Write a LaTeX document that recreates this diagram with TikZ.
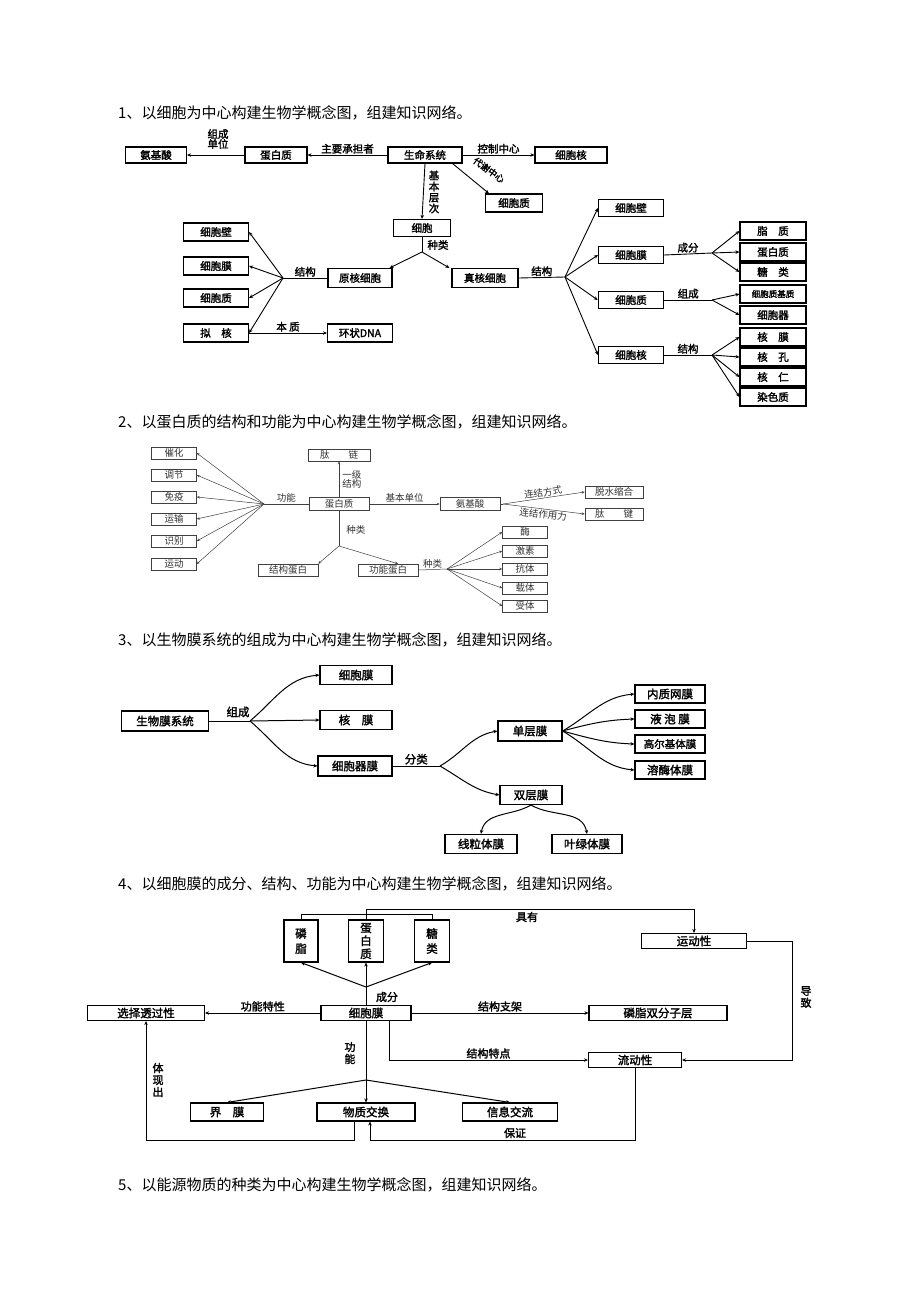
\documentclass[tikz,border=0pt]{standalone}
\usepackage{fontspec}
\setmainfont{Noto Sans CJK SC}[AutoFakeBold=2]
\usetikzlibrary{arrows.meta,calc}
\begin{document}
\begin{tikzpicture}[x=1pt,y=-1pt,
  B/.style 2 args={draw,inner sep=0pt,minimum width=#1,minimum height=#2,align=center},
  one/.style={line width=1.1pt,font=\fontsize{10.5}{12}\selectfont\bfseries},
  two/.style={line width=0.5pt,draw=black!75,text=black!80,font=\fontsize{9.5}{11}\selectfont},
  thr/.style={line width=1.1pt,font=\fontsize{11.5}{13}\selectfont\bfseries},
  fr/.style={line width=1.1pt,font=\fontsize{11.5}{13}\selectfont\bfseries},
  ar/.style={-{Stealth[length=4pt,width=3.5pt]}},
  lb/.style={inner sep=1pt,font=\fontsize{10.5}{12}\selectfont\bfseries},
  lt/.style={inner sep=1pt,text=black!80,font=\fontsize{9.5}{11}\selectfont},
  hd/.style={anchor=west,inner sep=0pt,font=\fontsize{15}{18}\selectfont}]
\useasboundingbox (0,0) rectangle (920,1302);
\fill[white] (0,0) rectangle (920,1302);
% headings
\node[hd] (h1) at (118,113) {1、以细胞为中心构建生物学概念图，组建知识网络。};
\node[hd] (h2) at (118,422) {2、以蛋白质的结构和功能为中心构建生物学概念图，组建知识网络。};
\node[hd] (h3) at (118,640) {3、以生物膜系统的组成为中心构建生物学概念图，组建知识网络。};
\node[hd] (h4) at (118,884) {4、以细胞膜的成分、结构、功能为中心构建生物学概念图，组建知识网络。};
\node[hd] (h5) at (118,1185) {5、以能源物质的种类为中心构建生物学概念图，组建知识网络。};
% ---------- diagram 1
\begin{scope}[every node/.append style={one}]
\node[B={61pt}{16pt}] (a1) at (156,155) {氨基酸};
\node[B={62pt}{16pt}] (a2) at (276,155) {蛋白质};
\node[B={74pt}{16pt}] (a3) at (425,155) {生命系统};
\node[B={72pt}{16pt}] (a4) at (571,155) {细胞核};
\node[B={57pt}{18pt}] (a5) at (514,203) {细胞质};
\node[B={57pt}{17pt}] (a6) at (422,228) {细胞};
\node[B={64pt}{19pt}] (a7) at (360,278) {原核细胞};
\node[B={66pt}{19pt}] (a8) at (485,278) {真核细胞};
\node[B={65pt}{18pt}] (a9) at (216,232) {细胞壁};
\node[B={65pt}{18pt}] (a10) at (216,266) {细胞膜};
\node[B={65pt}{18pt}] (a11) at (216,298) {细胞质};
\node[B={65pt}{18pt}] (a12) at (216,333) {拟\quad 核};
\node[B={65pt}{18pt}] (a13) at (360,333) {环状DNA};
\node[B={65pt}{17pt}] (b1) at (631,208) {细胞壁};
\node[B={65pt}{17pt}] (b2) at (631,255) {细胞膜};
\node[B={65pt}{17pt},line width=1.6pt] (b3) at (631,300) {细胞质};
\node[B={65pt}{17pt}] (b4) at (631,355) {细胞核};
\node[B={66pt}{18pt}] (c1) at (773,231) {脂\quad 质};
\node[B={66pt}{18pt}] (c2) at (773,252) {蛋白质};
\node[B={66pt}{18pt}] (c3) at (773,272) {糖\quad 类};
\node[B={66pt}{18pt},font=\fontsize{8.5}{10}\selectfont\bfseries] (c4) at (773,294) {细胞质基质};
\node[B={66pt}{18pt}] (c5) at (773,315) {细胞器};
\node[B={66pt}{18pt}] (c6) at (773,337) {核\quad 膜};
\node[B={66pt}{18pt}] (c7) at (773,357) {核\quad 孔};
\node[B={66pt}{18pt}] (c8) at (773,377) {核\quad 仁};
\node[B={66pt}{18pt}] (c9) at (773,397) {染色质};
\end{scope}
\coordinate (p1) at (422,252);
\coordinate (q1) at (283,278);
\coordinate (q2) at (565,277);
\coordinate (r1) at (712,253);
\coordinate (r2) at (712,300);
\coordinate (r3) at (712,355);
\begin{scope}[line width=0.9pt]
\draw[ar] (a3.west) -- node[lb,above]{主要承担者} (a2.east);
\draw[ar] (a2.west) -- (a1.east);
\node[lb,align=center,font=\fontsize{10.5}{10}\selectfont\bfseries] (t1) at (218,139) {组成\\单位};
\draw[ar] (a3.east) -- node[lb,above]{控制中心} (a4.west);
\draw[ar] ([xshift=-10pt]a3.south east) -- ([xshift=4pt]a5.north west);
\node[lb,rotate=-36,inner sep=0pt,font=\fontsize{9}{10}\selectfont\bfseries] (t0) at (489,170) {代谢中心};
\draw[ar] (a3.south) -- (a6.north);
\node[lb,align=center,font=\fontsize{10.5}{11}\selectfont\bfseries] (t2) at (434,192) {基\\本\\层\\次};
\draw (a6.south) -- (p1);
\node[lb] (t3) at (438,245) {种类};
\draw[ar] (p1) -- ([xshift=-3pt]a7.north east);
\draw[ar] (p1) -- ([xshift=-2pt]a8.north west);
\draw (a7.west) -- node[lb,above]{结构} (q1);
\draw[ar] (q1) -- (a9.east);
\draw[ar] (q1) -- (a10.east);
\draw[ar] (q1) -- (a11.east);
\draw[ar] (q1) -- (a12.east);
\draw[ar] (a12.east) -- node[lb,above]{本\ 质} (a13.west);
\draw (a8.east) -- node[lb,above]{结构} (q2);
\draw[ar] (q2) -- (b1.west);
\draw[ar] (q2) -- (b2.west);
\draw[ar] (q2) -- (b3.west);
\draw[ar] (q2) -- (b4.west);
\draw (b2.east) -- node[lb,above]{成分} (r1);
\draw[ar] (r1) -- (c1.west);
\draw[ar] (r1) -- (c2.west);
\draw[ar] (r1) -- (c3.west);
\draw (b3.east) -- node[lb,above]{组成} (r2);
\draw[ar] (r2) -- (c4.west);
\draw[ar] (r2) -- (c5.west);
\draw (b4.east) -- node[lb,above]{结构} (r3);
\draw[ar] (r3) -- (c6.west);
\draw[ar] (r3) -- (c7.west);
\draw[ar] (r3) -- (c8.west);
\draw[ar] (r3) -- (c9.west);
\end{scope}
% ---------- diagram 2
\begin{scope}[every node/.append style={two}]
\node[B={45pt}{12pt}] (d1) at (174,453) {催化};
\node[B={45pt}{12pt}] (d2) at (174,475) {调节};
\node[B={45pt}{12pt}] (d3) at (174,497) {免疫};
\node[B={45pt}{12pt}] (d4) at (174,519) {运输};
\node[B={45pt}{12pt}] (d5) at (174,541) {识别};
\node[B={45pt}{12pt}] (d6) at (174,564) {运动};
\node[B={60pt}{13pt}] (d7) at (339,504) {蛋白质};
\node[B={62pt}{12pt}] (d8) at (339,455) {肽\qquad 链};
\node[B={60pt}{13pt}] (d9) at (470,504) {氨基酸};
\node[B={58pt}{12pt}] (d10) at (614,492) {脱水缩合};
\node[B={58pt}{12pt}] (d11) at (614,514) {肽\qquad 键};
\node[B={60pt}{12pt}] (d12) at (288,570) {结构蛋白};
\node[B={60pt}{12pt}] (d13) at (388,570) {功能蛋白};
\node[B={45pt}{12pt}] (d14) at (525,532) {酶};
\node[B={45pt}{12pt}] (d15) at (525,551) {激素};
\node[B={45pt}{12pt}] (d16) at (525,569) {抗体};
\node[B={45pt}{12pt}] (d17) at (525,588) {载体};
\node[B={45pt}{12pt}] (d18) at (525,606) {受体};
\end{scope}
\coordinate (dp) at (264,504);
\coordinate (dq) at (503,504);
\coordinate (dr) at (339,546);
\coordinate (ds) at (447,569);
\begin{scope}[line width=0.5pt,draw=black!75,ar2/.style={-{Stealth[length=3pt,width=2.5pt]}}]
\draw (d7.west) -- node[lt,above]{功能} (dp);
\foreach \i in {1,...,6} \draw[ar2] (dp) -- (d\i.east);
\draw[ar2] (d7.north) -- node[lt,right=2pt,align=center,font=\fontsize{9.5}{9.5}\selectfont]{一级\\结构} (d8.south);
\draw[ar2] (d7.east) -- node[lt,above]{基本单位} (d9.west);
\draw (d9.east) -- (dq);
\draw[ar2] (dq) -- node[lt,sloped,above]{连结方式} (d10.west);
\draw[ar2] (dq) -- node[lt,sloped,below]{连结作用力} (d11.west);
\draw (d7.south) -- node[lt,right=6pt,pos=0.55]{种类} (dr);
\draw[ar2] (dr) -- (d12.north east);
\draw[ar2] (dr) -- ([xshift=10pt]d13.north);
\draw (d13.east) -- node[lt,above]{种类} (ds);
\foreach \i in {14,...,18} \draw[ar2] (ds) -- (d\i.west);
\end{scope}
% ---------- diagram 3
\begin{scope}[every node/.append style={thr}]
\node[B={87pt}{20pt}] (e1) at (165,721) {生物膜系统};
\node[B={72pt}{19pt}] (e2) at (356,675) {细胞膜};
\node[B={72pt}{19pt}] (e3) at (356,720) {核\quad 膜};
\node[B={74pt}{20pt}] (e4) at (355,766) {细胞器膜};
\node[B={64pt}{20pt}] (e5) at (530,731) {单层膜};
\node[B={62pt}{19pt}] (e6) at (531,795) {双层膜};
\node[B={70pt}{18pt}] (e7) at (670,694) {内质网膜};
\node[B={70pt}{18pt}] (e8) at (670,719) {液\ 泡\ 膜};
\node[B={70pt}{18pt},font=\fontsize{10.5}{12}\selectfont\bfseries] (e9) at (670,744) {高尔基体膜};
\node[B={70pt}{18pt}] (e10) at (670,770) {溶酶体膜};
\node[B={72pt}{19pt}] (e11) at (481,844) {线粒体膜};
\node[B={70pt}{19pt}] (e12) at (587,844) {叶绿体膜};
\end{scope}
\coordinate (ep) at (250,721);
\coordinate (eq) at (440,766);
\begin{scope}[line width=1pt]
\draw (e1.east) -- (ep);
\node[lb,font=\fontsize{11.5}{13}\selectfont\bfseries] (t4) at (238,712) {组成};
\draw[ar] (ep) to[out=40,in=185] (e2.west);
\draw[ar] (ep) -- (e3.west);
\draw[ar] (ep) to[out=-40,in=175] (e4.west);
\draw (e4.east) -- node[lb,above,font=\fontsize{11.5}{13}\selectfont\bfseries]{分类} (eq);
\draw[ar] (eq) to[out=30,in=190] (e5.west);
\draw[ar] (eq) to[out=-30,in=170] (e6.west);
\draw[ar] (e5.east) to[out=30,in=185] (e7.west);
\draw[ar] (e5.east) to[out=15,in=182] (e8.west);
\draw[ar] (e5.east) to[out=-15,in=178] (e9.west);
\draw[ar] (e5.east) to[out=-30,in=175] (e10.west);
\draw[ar] (e6.south) to[out=210,in=80] (e11.north);
\draw[ar] (e6.south) to[out=-30,in=100] (e12.north);
\end{scope}
% ---------- diagram 4
\begin{scope}[every node/.append style={fr}]
\node[B={34pt}{42pt},font=\fontsize{11.5}{15}\selectfont\bfseries] (f1) at (301,941) {磷\\脂};
\node[B={35pt}{42pt},font=\fontsize{11.5}{13}\selectfont\bfseries] (f2) at (366,941) {蛋\\白\\质};
\node[B={35pt}{42pt},font=\fontsize{11.5}{15}\selectfont\bfseries] (f3) at (432,941) {糖\\类};
\node[B={105pt}{15pt}] (f4) at (694,941) {运动性};
\node[B={90pt}{15pt}] (f5) at (366,1013) {细胞膜};
\node[B={117pt}{15pt}] (f6) at (146,1013) {选择透过性};
\node[B={138pt}{15pt}] (f7) at (658,1013) {磷脂双分子层};
\node[B={93pt}{15pt}] (f8) at (635,1060) {流动性};
\node[B={73pt}{18pt}] (f9) at (227,1112) {界\quad 膜};
\node[B={98pt}{18pt}] (f10) at (366,1112) {物质交换};
\node[B={95pt}{18pt}] (f11) at (510,1112) {信息交流};
\end{scope}
\coordinate (fp) at (366,987);
\coordinate (fq) at (366,1080);
\begin{scope}[line width=1pt,every node/.append style={lb,font=\fontsize{11}{12}\selectfont\bfseries}]
\draw (f1.north) -- (f1.north |- 0,914) -| (f3.north);
\draw[ar] (f2.north) -- (f2.north |- 0,909) -| (f4.north);
\node (t5) at (527,917) {具有};
\draw (f5.north) -- (fp);
\draw[ar] (fp) -- (f1.south);
\draw[ar] (fp) -- (f2.south);
\draw[ar] (fp) -- (f3.south);
\node (t6) at (387,997) {成分};
\draw[ar] (f5.west) -- node[above]{功能特性} (f6.east);
\draw[ar] (f5.east) -- node[above]{结构支架} (f7.west);
\draw[ar] ([xshift=23pt]f5.south) |- node[pos=0.75,above]{结构特点} (f8.west);
\draw[ar] (f4.east) -- (792,941) |- (f8.east);
\node[align=center,font=\fontsize{11}{12}\selectfont\bfseries] (t7) at (806,997) {导\\致};
\draw (f5.south) -- (fq);
\node[align=center,font=\fontsize{11}{12}\selectfont\bfseries] (t8) at (350,1053) {功\\能};
\draw[ar] (fq) -- (f10.north);
\draw[ar] (fq) -- (f9.north);
\draw[ar] (fq) -- (f11.north);
\draw[ar] (f8.south) -- (f8.south |- 0,1140) -| ([xshift=4pt]f10.south);
\node (t9) at (515,1133) {保证};
\draw[ar] ([xshift=-12pt]f10.south) -- ([xshift=-12pt]f10.south |- 0,1140) -| (f6.south);
\node[align=center,font=\fontsize{11}{12}\selectfont\bfseries] (t10) at (158,1080) {体\\现\\出};
\end{scope}
\end{tikzpicture}
\end{document}
